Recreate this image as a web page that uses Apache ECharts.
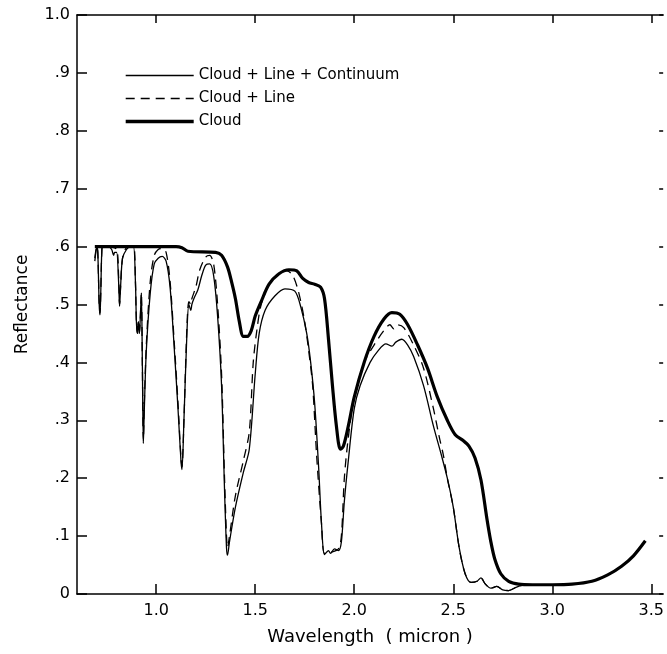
<!DOCTYPE html>
<html>
<head>
<meta charset="utf-8">
<script src="https://cdn.jsdelivr.net/npm/echarts@6/dist/echarts.min.js"></script>
<style>html,body{margin:0;padding:0;background:#fff}#c{width:667px;height:654px}</style>
</head>
<body>
<div id="c"></div>
<script>
var seriesNames = ['Cloud + Line + Continuum', 'Cloud + Line', 'Cloud'];
var xTicks = [1.0, 1.5, 2.0, 2.5, 3.0, 3.5];
var yTicks = [0, 0.1, 0.2, 0.3, 0.4, 0.5, 0.6, 0.7, 0.8, 0.9, 1.0];

var cloudLineContinuum = [
 [0.69,0.575],[0.695,0.59],[0.70,0.6],[0.705,0.59],[0.712,0.50],[0.716,0.482],[0.72,0.52],[0.725,0.59],
 [0.73,0.6],[0.76,0.6],[0.775,0.595],[0.785,0.585],[0.79,0.59],[0.80,0.59],[0.81,0.54],[0.815,0.497],
 [0.82,0.53],[0.83,0.58],[0.85,0.595],[0.87,0.6],[0.885,0.6],[0.895,0.54],[0.90,0.47],[0.905,0.45],
 [0.91,0.47],[0.915,0.45],[0.92,0.48],[0.925,0.52],[0.93,0.40],[0.935,0.26],[0.94,0.32],[0.95,0.42],
 [0.97,0.52],[0.99,0.57],[1.01,0.58],[1.03,0.583],[1.05,0.575],[1.07,0.53],[1.09,0.43],[1.11,0.32],
 [1.125,0.23],[1.13,0.215],[1.14,0.30],[1.155,0.45],[1.165,0.50],[1.175,0.49],[1.18,0.50],[1.19,0.51],
 [1.21,0.525],[1.23,0.55],[1.25,0.568],[1.27,0.57],[1.29,0.55],[1.31,0.48],[1.33,0.36],[1.345,0.18],
 [1.355,0.08],[1.36,0.067],[1.37,0.09],[1.40,0.15],[1.44,0.21],[1.47,0.25],[1.50,0.38],[1.52,0.45],
 [1.55,0.49],[1.60,0.515],[1.65,0.527],[1.70,0.523],[1.73,0.496],[1.76,0.45],[1.78,0.40],[1.80,0.33],
 [1.82,0.22],[1.835,0.12],[1.85,0.068],[1.87,0.075],[1.88,0.07],[1.90,0.078],[1.92,0.075],[1.935,0.09],
 [1.95,0.16],[1.97,0.23],[2.00,0.32],[2.03,0.36],[2.08,0.40],[2.12,0.42],[2.16,0.432],[2.19,0.428],
 [2.21,0.435],[2.24,0.44],[2.27,0.43],[2.30,0.41],[2.35,0.36],[2.40,0.29],[2.44,0.24],[2.47,0.20],
 [2.50,0.15],[2.53,0.08],[2.56,0.035],[2.59,0.02],[2.62,0.022],[2.64,0.028],[2.66,0.018],[2.69,0.01],
 [2.72,0.013],[2.75,0.007],[2.78,0.006],[2.82,0.012],[2.86,0.016]
];

var cloudLine = [
 [0.69,0.58],[0.70,0.6],[0.705,0.59],[0.712,0.50],[0.716,0.485],[0.72,0.52],[0.725,0.59],[0.73,0.6],
 [0.80,0.595],[0.81,0.55],[0.815,0.50],[0.82,0.53],[0.83,0.58],[0.85,0.598],[0.885,0.6],[0.895,0.54],
 [0.90,0.47],[0.905,0.45],[0.91,0.47],[0.915,0.45],[0.92,0.48],[0.925,0.52],[0.93,0.40],[0.935,0.265],
 [0.94,0.33],[0.95,0.43],[0.97,0.54],[0.99,0.585],[1.01,0.595],[1.03,0.597],[1.05,0.59],[1.07,0.54],
 [1.09,0.44],[1.11,0.33],[1.125,0.235],[1.13,0.22],[1.14,0.30],[1.155,0.46],[1.165,0.505],[1.175,0.50],
 [1.18,0.51],[1.20,0.53],[1.22,0.56],[1.25,0.582],[1.27,0.585],[1.29,0.57],[1.31,0.50],[1.33,0.38],
 [1.345,0.20],[1.355,0.10],[1.36,0.08],[1.37,0.10],[1.40,0.17],[1.44,0.23],[1.47,0.28],[1.49,0.40],
 [1.51,0.46],[1.53,0.50],[1.57,0.535],[1.62,0.555],[1.66,0.558],[1.69,0.55],[1.72,0.52],[1.75,0.47],
 [1.77,0.42],[1.79,0.36],[1.81,0.24],[1.835,0.12],[1.85,0.07],[1.88,0.072],[1.92,0.078],[1.935,0.10],
 [1.95,0.20],[1.97,0.27],[2.00,0.34],[2.05,0.40],[2.10,0.43],[2.15,0.455],[2.18,0.465],[2.20,0.458],
 [2.22,0.465],[2.25,0.46],[2.30,0.43],[2.35,0.39],[2.40,0.32],[2.43,0.27],[2.45,0.24],[2.47,0.20],
 [2.50,0.15],[2.53,0.08],[2.56,0.035],[2.59,0.02],[2.62,0.022],[2.64,0.028],[2.66,0.018],[2.69,0.01],
 [2.72,0.013],[2.75,0.007],[2.78,0.006],[2.82,0.012],[2.86,0.016]
];

var cloud = [
 [0.69,0.6],[0.90,0.6],[1.10,0.6],[1.13,0.598],[1.16,0.592],[1.30,0.59],[1.33,0.585],[1.36,0.565],
 [1.38,0.54],[1.40,0.51],[1.42,0.47],[1.44,0.445],[1.46,0.445],[1.48,0.455],[1.50,0.48],[1.53,0.505],
 [1.57,0.535],[1.62,0.553],[1.67,0.56],[1.71,0.558],[1.74,0.545],[1.77,0.538],[1.80,0.535],[1.83,0.53],
 [1.85,0.51],[1.87,0.44],[1.89,0.36],[1.91,0.29],[1.93,0.25],[1.945,0.255],[1.97,0.29],[2.00,0.34],
 [2.05,0.40],[2.10,0.445],[2.15,0.475],[2.19,0.486],[2.23,0.483],[2.27,0.465],[2.32,0.43],[2.37,0.39],
 [2.42,0.34],[2.47,0.30],[2.51,0.275],[2.55,0.265],[2.58,0.255],[2.61,0.235],[2.64,0.197],[2.67,0.13],
 [2.69,0.09],[2.71,0.06],[2.74,0.035],[2.78,0.022],[2.83,0.017],[2.90,0.016],[3.00,0.016],[3.10,0.017],
 [3.20,0.022],[3.28,0.033],[3.35,0.048],[3.41,0.066],[3.47,0.092]
];

var chart = echarts.init(document.getElementById('c'), null, {renderer: 'canvas'});
var font = 'DejaVu Sans';
var axisLine = {show: true, onZero: false, lineStyle: {color: '#000', width: 1.5}};
function yFmt(v) {
  if (Math.abs(v) < 1e-9) return '0';
  if (Math.abs(v - 1) < 1e-9) return '1.0';
  return '.' + Math.round(v * 10);
}
chart.setOption({
  animation: false,
  backgroundColor: '#fff',
  grid: {left: 77, top: 15, bottom: 60, right: 0, containLabel: false},
  legend: {
    orient: 'vertical', left: 119, top: 63, itemWidth: 68, itemHeight: 14, itemGap: 8,
    textStyle: {fontFamily: font, fontSize: 15, color: '#000'},
    itemStyle: {opacity: 0},
    data: [
      {name: seriesNames[0], lineStyle: {width: 1.3}},
      {name: seriesNames[1], lineStyle: {width: 1.3}},
      {name: seriesNames[2], lineStyle: {width: 3.4}}
    ]
  },
  xAxis: [{
    type: 'value', min: 0.6, max: 3.56, position: 'bottom',
    name: 'Wavelength  ( micron )', nameLocation: 'middle', nameGap: 34,
    nameTextStyle: {fontFamily: font, fontSize: 18, color: '#000'},
    axisLine: axisLine,
    axisTick: {show: true, inside: true, length: 10, customValues: xTicks, lineStyle: {color: '#000', width: 1.5}},
    axisLabel: {show: true, customValues: xTicks, margin: 9, fontFamily: font, fontSize: 16, color: '#000',
      formatter: function (v) { return v.toFixed(1); }},
    splitLine: {show: false}
  }, {
    type: 'value', min: 0.6, max: 3.56, position: 'top',
    axisLine: axisLine,
    axisTick: {show: true, inside: true, length: 8, customValues: xTicks, lineStyle: {color: '#000', width: 1.5}},
    axisLabel: {show: false}, splitLine: {show: false}
  }],
  yAxis: [{
    type: 'value', min: 0, max: 1, interval: 0.1, position: 'left',
    name: 'Reflectance', nameLocation: 'middle', nameGap: 46, nameRotate: 90,
    nameTextStyle: {fontFamily: font, fontSize: 17, color: '#000'},
    axisLine: axisLine,
    axisTick: {show: true, inside: true, length: 10, lineStyle: {color: '#000', width: 1.5}},
    axisLabel: {show: true, margin: 7, fontFamily: font, fontSize: 16, color: '#000', formatter: yFmt},
    splitLine: {show: false}
  }, {
    type: 'value', min: 0, max: 1, interval: 0.1, position: 'right',
    axisLine: {show: false},
    axisTick: {show: true, inside: true, length: 4, lineStyle: {color: '#000', width: 1.5}},
    axisLabel: {show: false}, splitLine: {show: false}
  }],
  series: [{
    name: seriesNames[0], type: 'line', data: cloudLineContinuum, symbol: 'none', smooth: 0.3,
    lineStyle: {color: '#000', width: 1.3}, itemStyle: {color: '#000'}
  }, {
    name: seriesNames[1], type: 'line', data: cloudLine, symbol: 'none', smooth: 0.3,
    lineStyle: {color: '#000', width: 1.3, type: [9, 6]}, itemStyle: {color: '#000'}
  }, {
    name: seriesNames[2], type: 'line', data: cloud, symbol: 'none', smooth: 0.3,
    lineStyle: {color: '#000', width: 3.2}, itemStyle: {color: '#000'}
  }]
});
</script>
</body>
</html>
